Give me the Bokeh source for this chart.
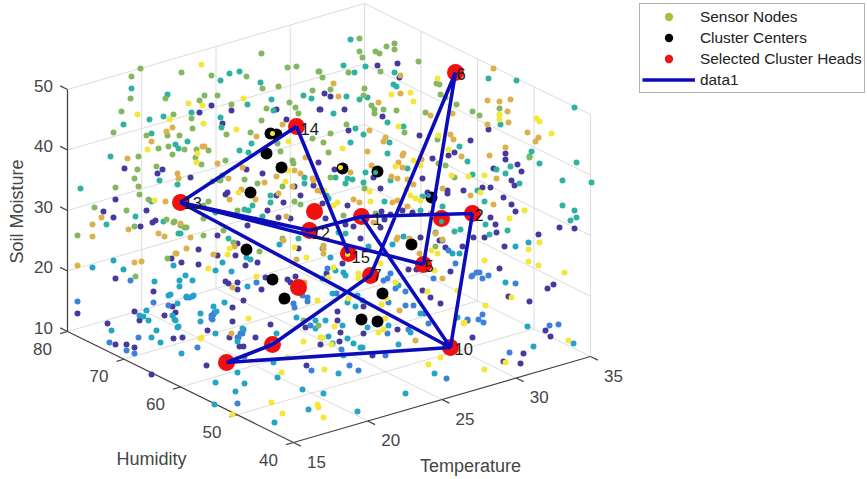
from math import pi, nan
from bokeh.plotting import figure
from bokeh.models import Range1d, Legend, LegendItem
from bokeh.core.properties import value
from bokeh.embed import file_html
from bokeh.resources import INLINE

# Axis tick values
temperature_ticks = [15, 20, 25, 30, 35]
humidity_ticks = [40, 50, 60, 70, 80]
moisture_ticks = [10, 20, 30, 40, 50]

purple = [(199,112),(211,105),(231,110),(222,123),(276,109),(286,119),(319,109),(124,168),(162,169),(157,173),(115,199),(103,211),(113,217),(146,210),(140,226),(152,222),(155,220),(217,235),
(246,169),(262,173),(227,192),(225,194),(294,186),(300,195),(313,185),(276,195),(283,202),(267,210),(278,217),(290,218),(318,162),(190,177),
(377,65),(397,63),(399,77),(324,93),(330,96),(320,109),(344,109),(382,116),(488,129),(505,153),(505,159),(559,227),(574,228),(538,234),(517,164),(521,171),(493,168),(511,180),(514,185),(482,187),(490,187),(503,197),(511,204),(515,211),(490,217),(495,224),(496,232),(484,237),
(348,130),(419,135),(470,140),(448,155),(454,152),(432,158),(334,169),(373,177),(422,178),(380,188),(447,190),(447,193),(463,190),(427,192),(347,205),(412,212),(402,210),(381,211),(390,214),(384,219),(325,218),(345,224),(353,226),(322,203),(473,237),(360,238),(380,227),(420,237),
(247,225),(237,243),(217,255),(235,255),(198,249),(171,258),(181,262),(198,264),(245,265),(257,262),(225,281),(228,283),(237,282),(237,289),(261,289),(265,277),(287,279),(295,276),(290,282),(298,248),(326,273),(243,300),(172,306),(175,312),(232,307),(232,321),(207,330),(229,337),(270,324),(255,337),(305,327),(182,337),
(115,278),(77,313),(107,323),(115,344),(126,344),(134,347),(134,311),(139,320),(153,291),(164,315),(173,338),(206,365),(151,374),(306,365),(243,346),(239,346),
(439,240),(445,247),(462,246),(450,271),(408,269),(416,269),(342,263),(422,290),(430,297),(440,303),(363,306),(337,311),(337,320),(340,332),(363,333),(397,329),(467,320),(339,341),
(504,246),(499,268),(553,284),(547,288),(508,296),(529,301),(545,330),(550,336),(523,353),(520,363),(503,361),(472,337),(372,355),(320,344)]
blue = [(256,282),(302,295),(307,297),(307,301),(293,303),(294,307),(282,301),(186,297),(189,297),(214,312),(211,315),(212,319),(240,333),(238,337),(310,325),
(130,280),(77,301),(109,342),(126,350),(134,353),(153,302),(138,337),(168,305),(197,347),(213,314),(211,318),(244,356),(237,403),(243,329),(242,333),(237,337),
(455,263),(442,240),(448,250),(433,278),(472,275),(476,272),(327,268),(390,273),(387,278),(383,280),(395,288),(405,291),(405,305),(413,305),(424,313),(388,302),(336,293),(387,333),(408,329),(428,323),
(479,272),(471,276),(482,278),(488,275),(515,283),(482,314),(478,319),(483,322),(467,319),(549,325),(558,324),(509,352),(446,378),(311,370),(349,365),(358,370),(341,349),(385,355)]
cyan = [(279,244),(246,257),(250,259),(222,262),(173,265),(215,270),(231,271),(322,248),(185,275),(179,280),(192,280),(179,286),(247,286),(224,302),(193,295),(177,303),(170,294),(213,306),(200,313),(200,321),(174,319),(177,327),(215,333),(242,328),(276,333),(296,317),(315,320),(325,320),(315,328),
(92,267),(113,260),(123,269),(154,281),(111,330),(139,315),(143,316),(146,310),(148,320),(156,330),(151,337),(160,342),(168,295),(186,296),(192,296),(172,315),(175,320),(178,326),(181,353),(216,311),(237,372),(215,382),(244,383),(235,391),(214,404),(274,422),(277,377),(273,362),(302,389),(308,409),(237,341),
(368,246),(392,244),(403,236),(459,253),(452,253),(330,257),(335,270),(343,272),(345,275),(322,278),(398,285),(420,313),(332,293),(347,302),(357,295),(362,300),(355,306),(342,325),(367,327),(388,325),(410,332),(457,317),(347,338),(328,336),(353,343),(332,343),(360,347),(398,344),
(528,242),(515,246),(505,282),(527,326),(573,343),(533,346),(434,373),(405,393),(357,411),(323,393),(338,373),(343,355),(362,347)]
teal = [(229,73),(239,71),(220,80),(260,82),(131,88),(167,94),(271,99),(303,95),(311,98),(123,124),(149,119),(163,116),(191,112),(247,104),(220,117),(221,127),(151,133),(273,110),(251,143),(239,150),(248,152),(175,144),(178,148),(187,141),(110,156),(159,180),(80,188),(151,201),(135,216),(106,224),(163,221),(178,233),(180,233),
(270,195),(304,177),(304,183),(222,175),(217,179),(270,202),(252,205),(244,209),(248,210),(262,216),(215,212),(177,184),
(350,39),(343,65),(365,66),(354,72),(394,72),(393,84),(396,86),(346,96),(359,99),(367,97),(333,113),(387,122),(500,124),(574,107),(488,78),(516,80),(531,151),(529,156),(539,163),(576,162),(591,182),(562,180),(562,205),(574,210),(576,217),(570,220),(510,166),(505,173),(519,183),(496,169),(484,201),(485,224),(489,234),(507,230),
(355,128),(363,134),(350,142),(387,153),(389,142),(403,126),(459,146),(467,161),(407,168),(365,172),(347,178),(352,179),(335,177),(345,183),(363,182),(390,180),(472,174),(477,190),(422,196),(384,201),(326,195),(328,198),(442,206),(420,210),(435,232),(454,231),(460,229),(345,233),(338,232),(298,238),(228,238)]
green = [(261,53),(296,66),(287,67),(140,68),(181,72),(131,76),(211,75),(246,76),(262,88),(278,86),(130,98),(165,98),(204,95),(217,95),(199,100),(312,90),(318,71),(121,111),(113,132),(173,114),(191,118),(231,104),(192,128),(146,135),(167,135),(179,135),(226,134),(250,132),(261,120),(266,108),(289,102),(295,107),(298,113),(158,148),(168,146),(184,149),(172,154),(196,149),(208,150),(195,157),(201,164),(138,156),(137,169),(156,166),(134,178),(138,186),(115,187),(139,194),(94,207),(126,210),(148,199),(134,226),(166,219),(174,221),(180,225),(184,227),(77,235),
(277,143),(280,151),(225,160),(292,160),(293,163),(244,179),(257,183),(220,180),(212,181),(208,201),(282,186),(294,201),(300,204),(237,210),(203,218),(173,222),(203,205),(323,142),(312,138),
(359,38),(359,51),(362,57),(375,51),(379,53),(386,46),(394,43),(394,49),(418,61),(380,71),(319,71),(322,77),(348,72),(436,83),(439,84),(364,88),(330,89),(363,95),(440,94),(445,97),(456,104),(371,105),(374,109),(374,113),(383,109),(396,110),(425,112),(472,111),(479,115),(499,108),(529,157),
(346,124),(330,133),(328,152),(404,132),(437,139),(438,163),(445,165),(330,177),(364,188),(454,177),(375,213),(343,215),
(186,227),(203,235),(223,230),(233,242),(259,251),(282,238),(303,320),(318,325),(135,276),(167,258),(435,246)]
gold = [(172,127),(166,131),(282,124),(256,136),(151,141),(204,146),(127,158),(101,217),(165,201),(92,224),(92,236),(128,229),(158,233),(164,236),(190,237),
(242,167),(217,163),(276,176),(294,170),(300,173),(313,180),(264,182),(241,189),(228,178),(229,199),(292,186),(317,190),(278,193),(255,199),(286,216),(180,223),(202,146),(177,173),(178,178),(305,157),(312,178),
(400,75),(333,83),(338,96),(400,93),(378,102),(430,115),(452,113),(493,68),(487,100),(499,101),(510,99),(507,111),(508,122),(487,124),(527,132),(538,137),(535,141),(505,147),(489,155),(496,178),(493,204),
(369,130),(383,141),(385,137),(450,134),(453,139),(461,156),(403,153),(402,155),(421,159),(398,162),(402,167),(371,165),(367,151),(350,172),(391,176),(397,178),(407,179),(413,184),(442,188),(470,195),(392,202),(397,200),(353,199),(359,202),(321,191),(407,206),(430,213),(373,222),(397,237),(409,238),(442,239),
(234,246),(213,254),(186,248),(175,253),(283,240),(296,259),(323,245),(232,287),(304,282),(231,333),(77,265),(134,262),(141,261),(176,253),
(396,239),(435,233),(419,253),(442,278),(323,253),(323,248),(399,310),(415,340)]
yellow = [(201,64),(243,98),(137,114),(169,119),(188,103),(202,105),(203,123),(236,129),(147,149),(196,162),(154,200),
(288,141),(197,153),(288,170),(285,181),(238,192),(324,190),
(437,78),(391,94),(410,92),(413,101),(499,114),(499,119),(536,118),(539,121),(551,133),(484,175),(480,192),(524,210),(509,218),
(342,148),(438,135),(448,149),(413,160),(395,166),(420,165),(451,175),(468,176),(369,191),(406,189),(410,195),(415,198),(420,200),(370,201),(337,202),(333,205),(398,126),
(229,248),(227,254),(294,247),(306,257),(208,268),(256,276),(328,277),(317,300),(248,318),(201,337),(320,337),
(200,338),(232,414),(271,402),(282,413),(281,372),(318,407),(317,404),(287,357),
(434,270),(437,253),(431,250),(380,263),(333,267),(358,273),(358,278),(395,282),(427,291),(457,290),(381,304),(386,298),(348,298),(385,318),(334,326),(378,332),(383,329),(463,323),(322,337),
(539,242),(528,249),(484,260),(528,261),(538,265),(564,272),(511,297),(485,305),(464,322),(568,340),(505,362),(484,369),(428,364),(440,357),(323,417),(324,369),(331,344),(303,341)]
# Nodes that sit in front of the large markers
front_yellow = [(340,167),(347,254),(272,133)]
front_teal = [(375,172),(441,221),(361,218)]
front_blue = [(428,195),(272,343)]

# Cluster centres and heads
centers = [(270,133),(276,134),(266,153),(281,167),(250,192),(342,168),(377,171),(431,197),(411,244),(246,249),(272,279),(284,298),(382,293),(361,319),(377,321)]
heads = {"h13": (180,202), "h14": (296,126), "h6": (455,72), "h2": (472,213), "h1": (361,216), "h_a": (441,218),
         "h_b": (314,211), "h12": (309,230), "h15": (348,253), "h5": (423,264), "h7": (370,275), "h_c": (298,287),
         "h10": (450,347), "h_d": (272,344), "h_e": (226,362)}
# Head labels: text, anchor x, anchor y
label_text = ["13", "14", "6", "2", "1", "12", "15", "5", "7", "10"]
label_x = [183, 300, 456, 474, 372, 311, 351, 424, 372, 454]
label_y = [202, 128, 73, 214, 218, 232, 256, 265, 274, 348]
# Routes between heads
routes = [("h13","h14"),("h14","h15"),("h13","h12"),("h13","h5"),("h13","h10"),("h1","h12"),("h1","h2"),("h1","h10"),
          ("h6","h5"),("h6","h7"),("h2","h10"),("h10","h_e"),("h_e","h_d"),("h_d","h7")]

legend_labels = ["Sensor Nodes", "Cluster Centers", "Selected Cluster Heads", "data1"]

FONT = value("Liberation Sans")
GREY = "#454545"


def project(t, h, m):
    x = 293 + (t - 15) / 20 * 297 - (h - 40) / 40 * 226
    y = 442 - (t - 15) / 20 * 86 - (h - 40) / 40 * 111 - (m - 10) / 40 * 242
    return x, y


p = figure(width=867, height=479, output_backend="svg", toolbar_location=None,
           x_range=Range1d(0, 867), y_range=Range1d(479, 0), min_border=0)
p.axis.visible = False
p.grid.visible = False
p.outline_line_color = None
p.background_fill_color = "white"


def seg(a, b, color, width):
    pa, pb = project(*a), project(*b)
    p.line([pa[0], pb[0]], [pa[1], pb[1]], line_color=color, line_width=width)


# Grid on floor and back walls
for t in temperature_ticks[1:]:
    seg((t, 40, 10), (t, 80, 10), "#dcdcdc", 1)
    seg((t, 80, 10), (t, 80, 50), "#dcdcdc", 1)
for h in humidity_ticks[1:]:
    seg((15, h, 10), (35, h, 10), "#dcdcdc", 1)
    seg((35, h, 10), (35, h, 50), "#dcdcdc", 1)
seg((35, 40, 10), (35, 40, 50), "#dcdcdc", 1)
for m in moisture_ticks[1:]:
    seg((15, 80, m), (35, 80, m), "#dcdcdc", 1)
    seg((35, 80, m), (35, 40, m), "#dcdcdc", 1)

# Axes
seg((15, 80, 10), (15, 80, 50), GREY, 1.3)
seg((15, 40, 10), (15, 80, 10), GREY, 1.3)
seg((15, 40, 10), (35, 40, 10), GREY, 1.3)
for m in moisture_ticks:
    seg((15, 80, m), (15, 81.3, m), GREY, 1.3)
for h in humidity_ticks:
    seg((15, h, 10), (14.5, h, 10), GREY, 1.3)
for t in temperature_ticks:
    seg((t, 40, 10), (t, 38.7, 10), GREY, 1.3)


def tick_labels(values, fn, dx, dy):
    xs, ys = zip(*[fn(v) for v in values])
    p.text([x + dx for x in xs], [y + dy for y in ys], text=[str(v) for v in values],
           text_font=FONT, text_font_size="17px", text_color=GREY,
           text_align="center", text_baseline="middle")


tick_labels(moisture_ticks, lambda m: project(15, 80, m), -24, -4)
tick_labels(humidity_ticks, lambda h: project(15, h, 10), -25, 17)
tick_labels(temperature_ticks, lambda t: project(t, 40, 10), 23, 19)

p.text([16], [211], text=["Soil Moisture"], angle=pi / 2, text_font=FONT, text_font_size="18px",
       text_color=GREY, text_align="center", text_baseline="middle")
p.text([151], [458], text=["Humidity"], text_font=FONT, text_font_size="18px",
       text_color=GREY, text_align="center", text_baseline="middle")
p.text([470], [465], text=["Temperature"], text_font=FONT, text_font_size="18px",
       text_color=GREY, text_align="center", text_baseline="middle")


def dots(points, color, size=6):
    xs, ys = zip(*points)
    return p.scatter(list(xs), list(ys), size=size, fill_color=color, line_color=None, marker="circle")


PURPLE, BLUE, CYAN, TEAL, GREEN, GOLD, YELLOW = ("#46399e", "#3d82d8", "#25a5c5", "#2eb3a0",
                                                "#84b860", "#dcb04c", "#f4e63a")
for pts, col in [(purple, PURPLE), (blue, BLUE), (cyan, CYAN), (teal, TEAL), (green, GREEN), (gold, GOLD), (yellow, YELLOW)]:
    dots(pts, col)

r_centers = dots(centers, "black", 12)
r_heads = dots(list(heads.values()), "#f01010", 17)
for pts, col in [(front_yellow, YELLOW), (front_teal, TEAL), (front_blue, BLUE)]:
    dots(pts, col, 5)

route_x, route_y = [], []
for a, b in routes:
    route_x += [heads[a][0], heads[b][0], nan]
    route_y += [heads[a][1], heads[b][1], nan]
r_line = p.line(route_x, route_y, line_color="#0c0cbc", line_width=3.6)

p.text(label_x, label_y, text=label_text, text_font=FONT, text_font_size="16.5px", text_color="#1a1a1a",
       text_align="left", text_baseline="middle")

r_sensor = p.scatter([nan], [nan], size=6, fill_color="#a8c23f", line_color=None, marker="circle")
legend = Legend(items=[LegendItem(label=value(legend_labels[0]), renderers=[r_sensor]),
                       LegendItem(label=value(legend_labels[1]), renderers=[r_centers]),
                       LegendItem(label=value(legend_labels[2]), renderers=[r_heads]),
                       LegendItem(label=value(legend_labels[3]), renderers=[r_line])],
                location=(639, 479 - 93), orientation="vertical", padding=2, spacing=0, margin=0,
                glyph_width=53, glyph_height=21, label_height=21, label_standoff=5,
                label_text_font="Liberation Sans", label_text_font_size="15.4px", label_text_color="#222222",
                border_line_color="#666666", border_line_width=1.3, background_fill_alpha=1)
p.add_layout(legend)

open("out.html", "w").write(file_html(p, INLINE))
